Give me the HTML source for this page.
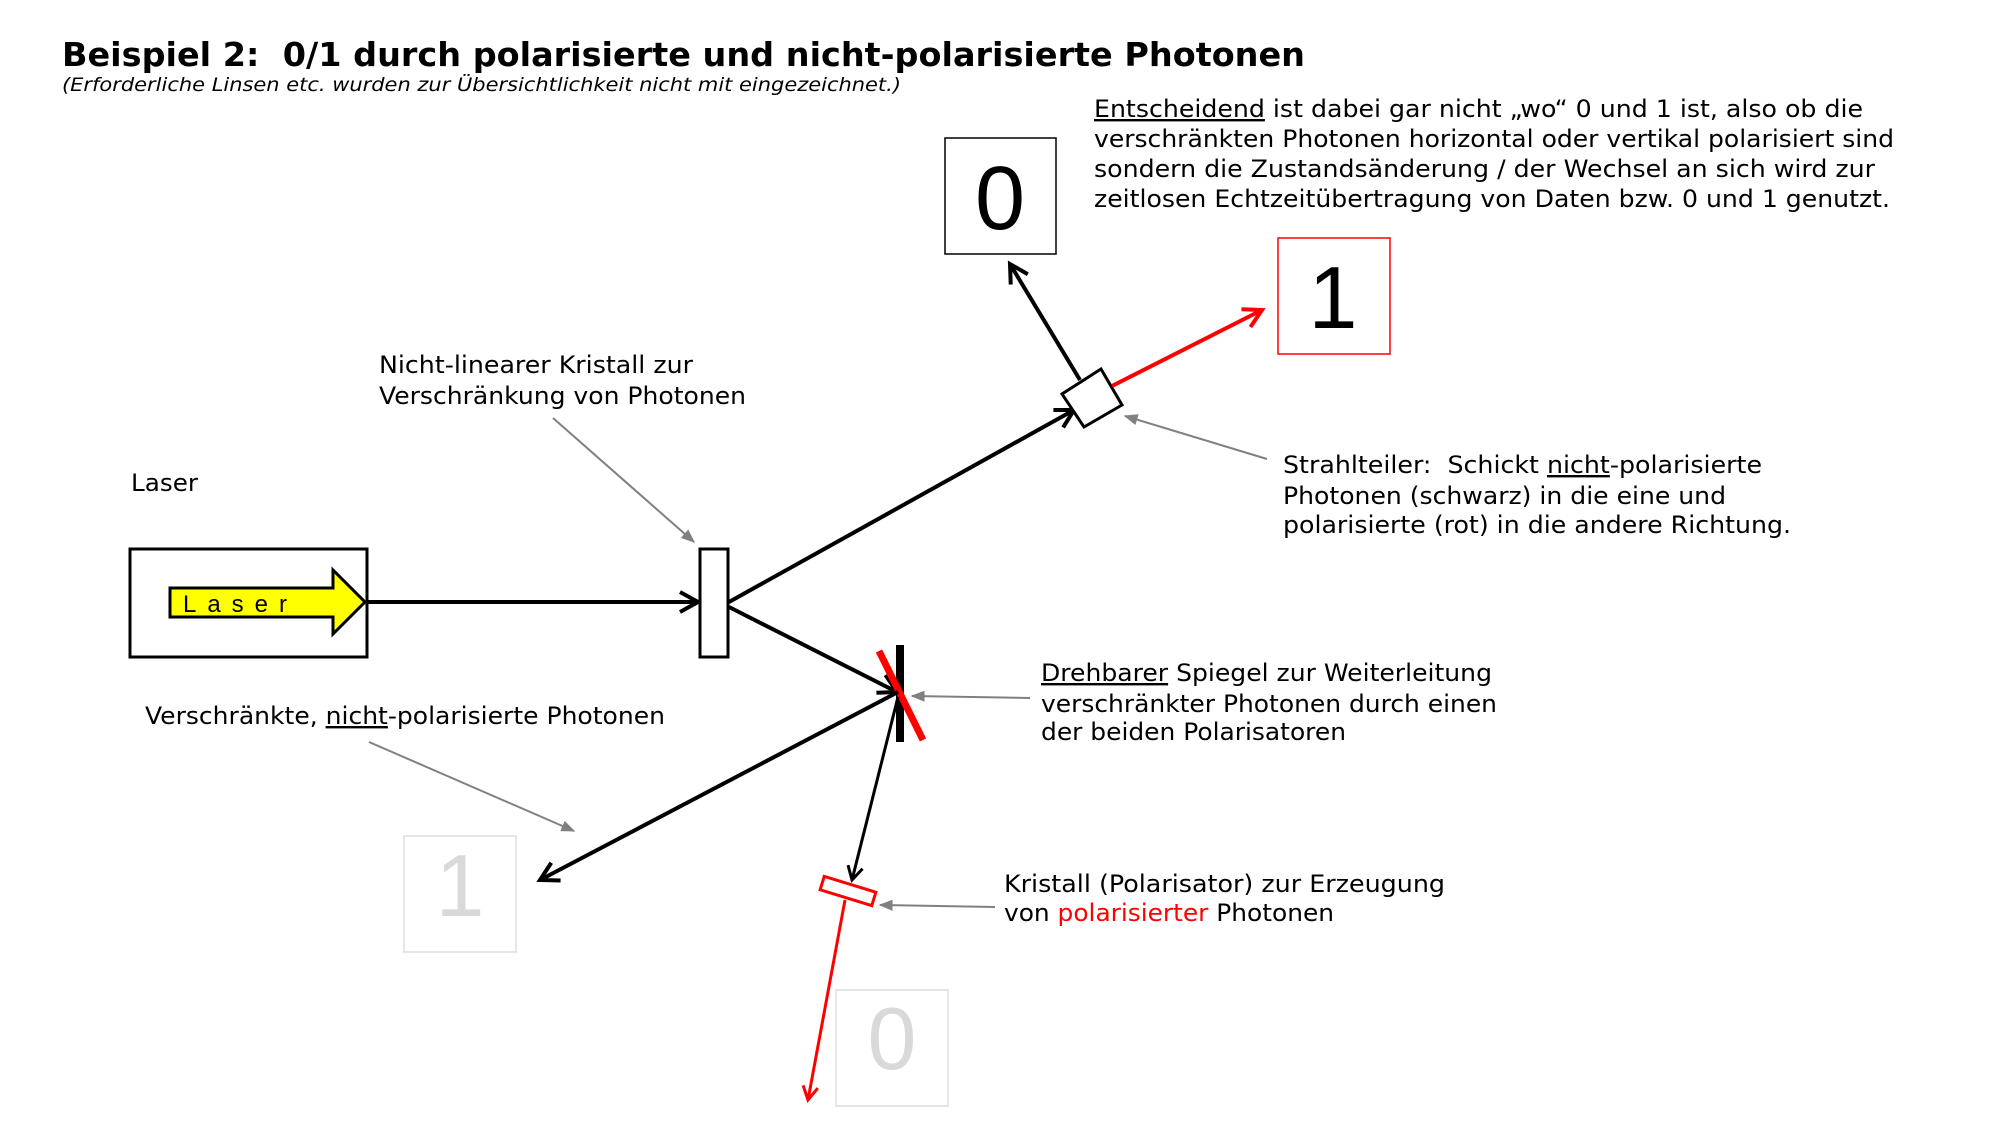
<!DOCTYPE html>
<html><head><meta charset="utf-8"><style>
html,body{margin:0;padding:0;background:#fff;}
svg{display:block;}
.d{font-family:"DejaVu Sans","Liberation Sans",sans-serif;}
.a{font-family:"Liberation Sans",sans-serif;}
</style></head><body>
<svg width="2000" height="1125" viewBox="0 0 2000 1125" xmlns="http://www.w3.org/2000/svg">
<defs>
<marker id="ab" viewBox="0 0 12 12" refX="10" refY="6" markerWidth="6" markerHeight="6" orient="auto" markerUnits="strokeWidth"><path d="M1,1 L10,6 L1,11" fill="none" stroke="#000" stroke-width="2"/></marker>
<marker id="ar" viewBox="0 0 12 12" refX="10" refY="6" markerWidth="6" markerHeight="6" orient="auto" markerUnits="strokeWidth"><path d="M1,1 L10,6 L1,11" fill="none" stroke="#f00" stroke-width="2"/></marker>
<marker id="ag" viewBox="0 0 10 10" refX="9" refY="5" markerWidth="7" markerHeight="7" orient="auto" markerUnits="strokeWidth"><path d="M0,1 L10,5 L0,9 Z" fill="#808080"/></marker>
</defs>

<g class="d">
<text x="62" y="66" font-size="33" font-weight="bold" textLength="1243" lengthAdjust="spacingAndGlyphs">Beispiel 2:&#160; 0/1 durch polarisierte und nicht-polarisierte Photonen</text>
<text x="62" y="91" font-size="19" font-style="italic" textLength="839" lengthAdjust="spacingAndGlyphs">(Erforderliche Linsen etc. wurden zur Übersichtlichkeit nicht mit eingezeichnet.)</text>

<g font-size="24">
<text x="1094" y="117" textLength="769" lengthAdjust="spacingAndGlyphs"><tspan text-decoration="underline">Entscheidend</tspan> ist dabei gar nicht „wo“ 0 und 1 ist, also ob die</text>
<text x="1094" y="147" textLength="800" lengthAdjust="spacingAndGlyphs">verschränkten Photonen horizontal oder vertikal polarisiert sind</text>
<text x="1094" y="177" textLength="781" lengthAdjust="spacingAndGlyphs">sondern die Zustandsänderung / der Wechsel an sich wird zur</text>
<text x="1094" y="207" textLength="796" lengthAdjust="spacingAndGlyphs">zeitlosen Echtzeitübertragung von Daten bzw. 0 und 1 genutzt.</text>

<text x="379" y="373" textLength="314" lengthAdjust="spacingAndGlyphs">Nicht-linearer Kristall zur</text>
<text x="379" y="404" textLength="367" lengthAdjust="spacingAndGlyphs">Verschränkung von Photonen</text>

<text x="131" y="491" textLength="67" lengthAdjust="spacingAndGlyphs">Laser</text>

<text x="1283" y="473" textLength="479" lengthAdjust="spacingAndGlyphs">Strahlteiler:&#160; Schickt <tspan text-decoration="underline">nicht</tspan>-polarisierte</text>
<text x="1283" y="504" textLength="443" lengthAdjust="spacingAndGlyphs">Photonen (schwarz) in die eine und</text>
<text x="1283" y="533" textLength="508" lengthAdjust="spacingAndGlyphs">polarisierte (rot) in die andere Richtung.</text>

<text x="1041" y="681" textLength="451" lengthAdjust="spacingAndGlyphs"><tspan text-decoration="underline">Drehbarer</tspan> Spiegel zur Weiterleitung</text>
<text x="1041" y="712" textLength="456" lengthAdjust="spacingAndGlyphs">verschränkter Photonen durch einen</text>
<text x="1041" y="740" textLength="305" lengthAdjust="spacingAndGlyphs">der beiden Polarisatoren</text>

<text x="145" y="724" textLength="520" lengthAdjust="spacingAndGlyphs">Verschränkte, <tspan text-decoration="underline">nicht</tspan>-polarisierte Photonen</text>

<text x="1004" y="892" textLength="441" lengthAdjust="spacingAndGlyphs">Kristall (Polarisator) zur Erzeugung</text>
<text x="1004" y="921" textLength="330" lengthAdjust="spacingAndGlyphs">von <tspan fill="#f00">polarisierter</tspan> Photonen</text>
</g>
</g>

<!-- boxes -->
<rect x="945" y="138" width="111" height="116" fill="none" stroke="#000" stroke-width="1.5"/>
<text class="a" x="1000" y="229" font-size="90" text-anchor="middle">0</text>
<rect x="1278" y="238" width="112" height="116" fill="none" stroke="#f00" stroke-width="1.5"/>
<text class="a" x="1333" y="328" font-size="88" text-anchor="middle">1</text>
<rect x="404" y="836" width="112" height="116" fill="none" stroke="#ddd" stroke-width="1.5"/>
<text class="a" x="460" y="916" font-size="88" text-anchor="middle" fill="#d9d9d9">1</text>
<rect x="836" y="990" width="112" height="116" fill="none" stroke="#ddd" stroke-width="1.5"/>
<text class="a" x="892" y="1069" font-size="88" text-anchor="middle" fill="#d9d9d9">0</text>

<!-- laser -->
<rect x="130" y="549" width="237" height="108" fill="#fff" stroke="#000" stroke-width="3"/>
<polygon points="170,588 333,588 333,570 365,602 333,634 333,617 170,617" fill="#ff0" stroke="#000" stroke-width="3"/>
<text class="a" x="183" y="612" font-size="24" textLength="104" lengthAdjust="spacing">Laser</text>

<!-- beams -->
<line x1="367" y1="602" x2="698" y2="602" stroke="#000" stroke-width="4" marker-end="url(#ab)"/>
<rect x="700" y="549" width="28" height="108" fill="#fff" stroke="#000" stroke-width="3"/>
<line x1="729" y1="602" x2="1074" y2="410" stroke="#000" stroke-width="4" marker-end="url(#ab)"/>
<line x1="729" y1="607" x2="897" y2="692" stroke="#000" stroke-width="4" marker-end="url(#ab)"/>
<polygon points="1101,369 1122,405 1084,427 1062,394" fill="#fff" stroke="#000" stroke-width="3"/>
<line x1="1080" y1="380" x2="1010" y2="264" stroke="#000" stroke-width="4" marker-end="url(#ab)"/>
<line x1="1112" y1="386" x2="1262" y2="310" stroke="#f00" stroke-width="4" marker-end="url(#ar)"/>

<line x1="900" y1="645" x2="900" y2="742" stroke="#000" stroke-width="8"/>
<line x1="879" y1="651" x2="923" y2="740" stroke="#f00" stroke-width="7"/>
<line x1="898" y1="692" x2="540" y2="880" stroke="#000" stroke-width="4" marker-end="url(#ab)"/>
<line x1="898" y1="697" x2="852" y2="880" stroke="#000" stroke-width="3" marker-end="url(#ab)"/>
<rect x="-27" y="-7" width="54" height="14" fill="#fff" stroke="#f00" stroke-width="3" transform="translate(848,891) rotate(17)"/>
<line x1="845" y1="900" x2="808" y2="1100" stroke="#f00" stroke-width="3" marker-end="url(#ar)"/>

<!-- pointers -->
<g stroke="#808080" stroke-width="2" fill="none">
<line x1="553" y1="418" x2="694" y2="542" marker-end="url(#ag)"/>
<line x1="1267" y1="459" x2="1125" y2="416" marker-end="url(#ag)"/>
<line x1="1030" y1="698" x2="912" y2="696" marker-end="url(#ag)"/>
<line x1="369" y1="742" x2="574" y2="831" marker-end="url(#ag)"/>
<line x1="995" y1="907" x2="880" y2="905" marker-end="url(#ag)"/>
</g>
</svg>
</body></html>
